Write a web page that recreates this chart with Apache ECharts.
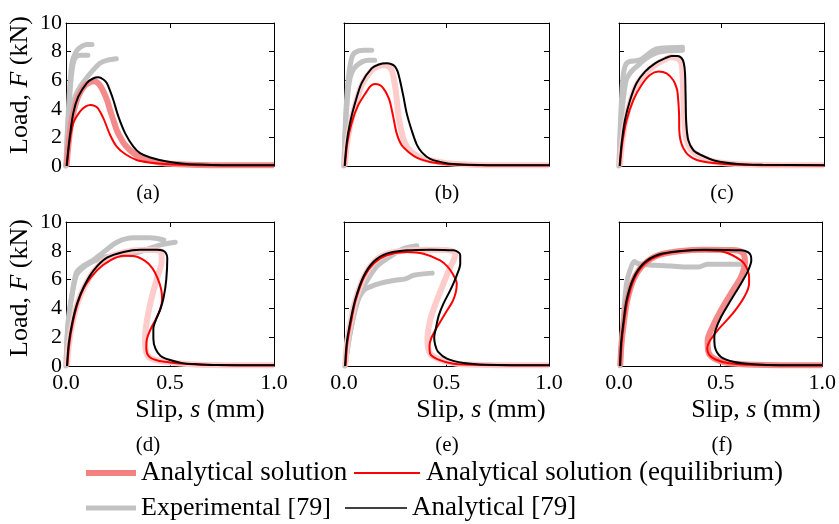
<!DOCTYPE html>
<html>
<head>
<meta charset="utf-8">
<script src="https://cdn.jsdelivr.net/npm/echarts@6/dist/echarts.min.js"></script>
<style>
html,body{margin:0;padding:0;background:#fff;}
#chart{width:839px;height:524px;}
</style>
</head>
<body>
<div id="chart"></div>
<script>
// ---------- data (slip s in mm, load F in kN) ----------
const panelLabels = ['(a)', '(b)', '(c)', '(d)', '(e)', '(f)'];
const xTickValues = [0, 0.5, 1.0];
const yTickValues = [0, 2, 4, 6, 8, 10];
const seriesNames = ['Analytical solution', 'Analytical solution (equilibrium)', 'Experimental [79]', 'Analytical [79]'];

// (a)
const a_exp1 = [[0,0],[0.005,2],[0.012,4],[0.02,6],[0.03,7.3],[0.045,7.9],[0.06,8.2],[0.08,8.4],[0.1,8.5],[0.125,8.5]];
const a_exp2 = [[0,0],[0.006,2],[0.014,4],[0.024,6],[0.035,7.2],[0.05,7.65],[0.07,7.75],[0.105,7.75]];
const a_exp3 = [[0,0],[0.01,2],[0.025,3.8],[0.045,4.9],[0.07,5.6],[0.09,6.0],[0.13,6.7],[0.165,7.2],[0.2,7.4],[0.242,7.5]];
const a_pink = [[0.003,0],[0.012,1.5],[0.025,3],[0.04,4],[0.06,4.9],[0.09,5.6],[0.115,5.85],[0.135,5.92],[0.16,5.7],[0.18,5.2],[0.2,4.5],[0.212,3.9],[0.228,3.2],[0.244,2.5],[0.265,1.9],[0.284,1.47],[0.324,0.9],[0.36,0.6],[0.4,0.4],[0.45,0.25],[0.5,0.15],[0.6,0.08],[0.7,0.06],[1.0,0.05]];
const a_red = [[0.005,0],[0.016,1.6],[0.035,3.0],[0.067,3.8],[0.095,4.17],[0.118,4.27],[0.14,4.18],[0.155,4.0],[0.18,3.33],[0.212,2.17],[0.244,1.35],[0.284,0.84],[0.34,0.42],[0.4,0.25],[0.5,0.12],[0.6,0.07],[0.7,0.05],[1.0,0.05]];
const a_black = [[0.003,0],[0.016,1.8],[0.035,3.7],[0.059,4.85],[0.1,5.8],[0.13,6.12],[0.155,6.2],[0.18,6.05],[0.196,5.8],[0.212,5.25],[0.228,4.6],[0.252,3.45],[0.284,2.3],[0.324,1.35],[0.356,0.9],[0.405,0.6],[0.485,0.32],[0.565,0.16],[0.645,0.1],[0.75,0.06],[1.0,0.05]];

// (b)
const b_exp1 = [[0,0],[0.004,2],[0.01,4],[0.02,6],[0.032,7.2],[0.045,7.8],[0.07,8.05],[0.1,8.1],[0.135,8.1]];
const b_exp2 = [[0,0],[0.005,2],[0.013,4],[0.025,5.8],[0.04,6.6],[0.06,7.0],[0.09,7.3],[0.12,7.4],[0.15,7.4]];
const b_pink = [[0.004,0],[0.014,1.5],[0.031,2.9],[0.056,4.3],[0.088,5.7],[0.135,6.7],[0.165,6.95],[0.19,7.05],[0.215,7.0],[0.235,6.6],[0.25,5.5],[0.26,4.3],[0.268,3.3],[0.29,1.9],[0.31,1.3],[0.34,0.86],[0.38,0.55],[0.42,0.4],[0.5,0.2],[0.6,0.1],[0.7,0.06],[1.0,0.05]];
const b_red = [[0.005,0],[0.016,1.6],[0.037,3.0],[0.07,4.27],[0.11,5.2],[0.13,5.6],[0.151,5.73],[0.175,5.65],[0.192,5.43],[0.21,5.0],[0.224,4.5],[0.24,3.45],[0.257,2.28],[0.281,1.47],[0.322,0.89],[0.36,0.55],[0.42,0.28],[0.5,0.12],[0.6,0.07],[0.7,0.05],[1.0,0.05]];
const b_black = [[0.003,0],[0.013,1.6],[0.029,3.0],[0.054,4.4],[0.086,5.8],[0.135,6.83],[0.17,7.1],[0.208,7.18],[0.235,7.1],[0.249,6.95],[0.262,6.6],[0.273,6.0],[0.29,4.85],[0.306,3.68],[0.33,2.5],[0.355,1.5],[0.38,0.95],[0.42,0.5],[0.5,0.2],[0.58,0.1],[0.7,0.06],[1.0,0.05]];

// (c)
const c_exp1 = [[0,0],[0.004,2],[0.01,4],[0.018,6],[0.03,7.0],[0.05,7.3],[0.1,7.4],[0.14,7.8],[0.175,8.15],[0.22,8.25],[0.31,8.3]];
const c_exp2 = [[0,0],[0.006,2],[0.016,4],[0.035,6.0],[0.06,6.6],[0.09,7.0],[0.135,7.55],[0.18,7.9],[0.24,8.05],[0.31,8.1]];
const c_pink = [[0.004,0],[0.014,1.5],[0.031,3.1],[0.056,4.5],[0.088,5.7],[0.13,6.5],[0.18,7.1],[0.225,7.45],[0.25,7.6],[0.28,7.55],[0.3,7.35],[0.308,6.8],[0.314,4.85],[0.322,2.5],[0.338,1.47],[0.37,0.9],[0.45,0.35],[0.55,0.15],[0.7,0.07],[1.0,0.05]];
const c_red = [[0.005,0],[0.016,1.6],[0.037,3.2],[0.07,4.6],[0.11,5.66],[0.151,6.36],[0.192,6.6],[0.232,6.48],[0.265,6.0],[0.28,5.5],[0.286,5.08],[0.293,3.68],[0.294,2.5],[0.3,1.8],[0.314,1.24],[0.338,0.77],[0.38,0.42],[0.45,0.22],[0.55,0.1],[0.7,0.06],[1.0,0.05]];
const c_black = [[0.003,0],[0.013,1.6],[0.029,3.2],[0.054,4.6],[0.086,5.8],[0.127,6.6],[0.176,7.18],[0.224,7.53],[0.257,7.7],[0.285,7.7],[0.305,7.55],[0.316,7.2],[0.322,6.5],[0.325,4.85],[0.328,3.0],[0.338,1.8],[0.363,1.1],[0.4,0.77],[0.469,0.37],[0.58,0.14],[0.7,0.08],[1.0,0.05]];

// (d)
const d_exp1 = [[0,0],[0.005,2],[0.013,3.5],[0.029,5.0],[0.05,6.5],[0.077,6.9],[0.125,7.3],[0.18,7.9],[0.245,8.6],[0.325,8.9],[0.405,8.9],[0.47,8.75]];
const d_exp2 = [[0,0],[0.006,2],[0.015,3.5],[0.03,5.0],[0.05,6.3],[0.08,6.8],[0.13,7.25],[0.2,7.6],[0.3,7.75],[0.37,8.0],[0.45,8.4],[0.525,8.6]];
const d_pink = [[0.005,0],[0.014,1.5],[0.03,2.9],[0.054,4.3],[0.087,5.45],[0.135,6.6],[0.2,7.5],[0.28,7.9],[0.36,8.05],[0.43,8.05],[0.458,7.9],[0.46,7.3],[0.44,6.2],[0.42,5.2],[0.4,4.0],[0.385,2.8],[0.38,1.9],[0.382,1.2],[0.4,0.6],[0.45,0.35],[0.5,0.25],[0.56,0.16],[0.7,0.07],[1.0,0.05]];
const d_red = [[0.006,0],[0.016,1.55],[0.032,2.94],[0.056,4.33],[0.093,5.6],[0.149,6.64],[0.213,7.34],[0.28,7.65],[0.33,7.62],[0.38,7.3],[0.415,6.8],[0.44,6.1],[0.458,5.3],[0.462,4.6],[0.452,3.9],[0.43,3.2],[0.405,2.5],[0.388,1.8],[0.386,1.2],[0.4,0.65],[0.44,0.38],[0.5,0.25],[0.565,0.16],[0.65,0.09],[0.725,0.07],[1.0,0.05]];
const d_black = [[0.005,0],[0.013,1.55],[0.029,2.94],[0.053,4.33],[0.085,5.49],[0.133,6.64],[0.197,7.52],[0.277,7.92],[0.357,8.08],[0.437,8.08],[0.465,8.02],[0.48,7.85],[0.487,7.5],[0.482,6.0],[0.47,4.8],[0.455,4.0],[0.435,3.3],[0.42,2.6],[0.42,1.9],[0.43,1.2],[0.455,0.7],[0.5,0.42],[0.56,0.2],[0.613,0.14],[0.725,0.07],[1.0,0.05]];

// (e)
const e_exp1 = [[0.005,0],[0.015,1],[0.03,2.3],[0.054,3.9],[0.078,5.0],[0.111,5.9],[0.16,6.9],[0.225,7.6],[0.29,8.15],[0.355,8.35]];
const e_exp2 = [[0.005,0],[0.015,1],[0.03,2.3],[0.054,3.9],[0.075,4.8],[0.1,5.3],[0.127,5.5],[0.18,5.75],[0.25,5.95],[0.3,6.05],[0.34,6.3],[0.43,6.45]];
const e_pink = [[0.006,0],[0.014,1.5],[0.03,2.9],[0.055,4.5],[0.095,6.1],[0.145,7.2],[0.21,7.8],[0.31,8.03],[0.42,8.08],[0.5,8.06],[0.535,7.95],[0.543,7.7],[0.53,7.2],[0.518,6.87],[0.485,5.72],[0.453,4.56],[0.42,3.17],[0.407,1.78],[0.42,0.86],[0.469,0.44],[0.55,0.16],[0.7,0.07],[1.0,0.05]];
const e_red = [[0.008,0],[0.016,1.55],[0.033,2.94],[0.057,4.56],[0.098,6.18],[0.147,7.15],[0.208,7.69],[0.306,7.92],[0.388,7.8],[0.469,7.34],[0.505,6.9],[0.53,6.4],[0.55,5.72],[0.545,5.1],[0.53,4.5],[0.493,3.63],[0.445,2.48],[0.425,1.9],[0.417,1.4],[0.42,0.86],[0.461,0.44],[0.534,0.16],[0.664,0.07],[1.0,0.05]];
const e_black = [[0.005,0],[0.013,1.55],[0.029,2.94],[0.054,4.56],[0.094,6.18],[0.143,7.22],[0.208,7.8],[0.306,8.03],[0.42,8.08],[0.534,8.03],[0.558,7.9],[0.567,7.69],[0.567,7.1],[0.55,6.3],[0.518,5.25],[0.485,4.33],[0.462,3.5],[0.448,2.6],[0.44,2.0],[0.445,1.45],[0.458,1.0],[0.502,0.51],[0.583,0.21],[0.697,0.09],[1.0,0.05]];

// (f)
const f_exp1 = [[0.005,0],[0.013,1.55],[0.024,3.87],[0.037,5.72],[0.054,6.64],[0.075,7.25],[0.094,7.1],[0.176,6.99],[0.257,6.94],[0.339,6.87],[0.387,6.87],[0.436,7.06],[0.534,7.06],[0.616,7.06]];
const f_pink = [[0.006,0],[0.012,1.5],[0.023,2.9],[0.04,4.5],[0.072,6.0],[0.122,7.05],[0.195,7.7],[0.306,7.99],[0.42,8.08],[0.56,8.06],[0.6,7.95],[0.615,7.7],[0.62,7.22],[0.6,6.18],[0.55,5.02],[0.502,3.87],[0.46,2.71],[0.436,1.78],[0.44,0.97],[0.469,0.51],[0.534,0.21],[0.664,0.09],[1.0,0.05]];
const f_red = [[0.006,0],[0.013,1.55],[0.024,2.94],[0.042,4.56],[0.075,6.06],[0.127,7.1],[0.2,7.69],[0.306,7.96],[0.42,8.03],[0.518,7.92],[0.6,7.34],[0.625,6.9],[0.64,6.2],[0.64,5.72],[0.616,4.79],[0.559,3.63],[0.485,2.48],[0.445,1.7],[0.434,1.2],[0.445,0.75],[0.475,0.45],[0.534,0.21],[0.664,0.07],[1.0,0.05]];
const f_black = [[0.005,0],[0.01,1.55],[0.021,2.94],[0.037,4.56],[0.07,6.06],[0.119,7.1],[0.192,7.73],[0.306,7.99],[0.42,8.08],[0.6,8.03],[0.635,7.9],[0.648,7.69],[0.651,7.34],[0.632,6.53],[0.6,5.72],[0.55,4.56],[0.502,3.4],[0.475,2.5],[0.469,2.0],[0.472,1.32],[0.502,0.63],[0.567,0.28],[0.664,0.12],[0.79,0.05],[1.0,0.05]];

const panels = [
  {exp: [a_exp1, a_exp2, a_exp3], pink: a_pink, red: a_red, black: a_black, pinkColor: '#f48a8a'},
  {exp: [b_exp1, b_exp2], pink: b_pink, red: b_red, black: b_black, pinkColor: '#ffcccc'},
  {exp: [c_exp1, c_exp2], pink: c_pink, red: c_red, black: c_black, pinkColor: '#ffcccc'},
  {exp: [d_exp1, d_exp2], pink: d_pink, red: d_red, black: d_black, pinkColor: '#ffcccc'},
  {exp: [e_exp1, e_exp2], pink: e_pink, red: e_red, black: e_black, pinkColor: '#ffcccc'},
  {exp: [f_exp1], pink: f_pink, red: f_red, black: f_black, pinkColor: '#f48a8a'}
];

// ---------- layout ----------
const FONT = '"Liberation Serif", "DejaVu Serif", serif';
const grids = [
  {left: 66, top: 23, width: 208, height: 143},
  {left: 344, top: 23, width: 205, height: 143},
  {left: 619, top: 23, width: 205, height: 143},
  {left: 66, top: 222, width: 208, height: 144},
  {left: 344, top: 222, width: 205, height: 144},
  {left: 619, top: 222, width: 205, height: 144}
];

const axisLineStyle = {show: true, onZero: false, lineStyle: {color: '#000', width: 1}};
const tickStyle = {show: true, inside: true, length: 5, lineStyle: {color: '#000', width: 1}};
const xAxes = [], yAxes = [], series = [];
grids.forEach((g, i) => {
  const row = Math.floor(i / 3), col = i % 3;
  xAxes.push({gridIndex: i, type: 'value', min: 0, max: 1, interval: 0.5, position: 'bottom',
    axisLine: axisLineStyle, axisTick: tickStyle, splitLine: {show: false},
    axisLabel: {show: row === 1, margin: 6, color: '#000', fontFamily: FONT, fontSize: 22,
      formatter: v => xTickValues.includes(v) ? v.toFixed(1) : ''}});
  xAxes.push({gridIndex: i, type: 'value', min: 0, max: 1, interval: 0.5, position: 'top',
    axisLine: axisLineStyle, axisTick: tickStyle, splitLine: {show: false}, axisLabel: {show: false}});
  yAxes.push({gridIndex: i, type: 'value', min: 0, max: 10, interval: 2, position: 'left',
    axisLine: axisLineStyle, axisTick: tickStyle, splitLine: {show: false},
    axisLabel: {show: col === 0, margin: 4, color: '#000', fontFamily: FONT, fontSize: 22,
      formatter: v => yTickValues.includes(v) ? String(v) : ''}});
  yAxes.push({gridIndex: i, type: 'value', min: 0, max: 10, interval: 2, position: 'right',
    axisLine: axisLineStyle, axisTick: tickStyle, splitLine: {show: false}, axisLabel: {show: false}});

  const p = panels[i];
  const base = {type: 'line', xAxisIndex: 2 * i, yAxisIndex: 2 * i, showSymbol: false, symbol: 'none',
    smooth: 0.3, silent: true, animation: false};
  p.exp.forEach(d => series.push(Object.assign({}, base, {name: seriesNames[2], data: d,
    lineStyle: {color: '#c2c2c2', width: 5, cap: 'round', join: 'round'}})));
  series.push(Object.assign({}, base, {name: seriesNames[0], data: p.pink,
    lineStyle: {color: p.pinkColor, width: 6, join: 'round'}}));
  series.push(Object.assign({}, base, {name: seriesNames[1], data: p.red,
    lineStyle: {color: '#ff0000', width: 2}}));
  series.push(Object.assign({}, base, {name: seriesNames[3], data: p.black,
    lineStyle: {color: '#000000', width: 2}}));
});

// ---------- text / legend graphics ----------
const graphics = [];
const richText = (pre, it, post, size) => ({
  text: '{n|' + pre + '}{i|' + it + '}{n|' + post + '}',
  rich: {n: {fontFamily: FONT, fontSize: size, fill: '#000'},
         i: {fontFamily: FONT, fontSize: size, fontStyle: 'italic', fill: '#000'}},
  align: 'center', verticalAlign: 'middle'
});
[85, 288].forEach(y => graphics.push({type: 'text', x: 20, y: y, rotation: Math.PI / 2,
  style: richText('Load, ', 'F', ' (kN)', 26)}));
[200, 481, 756].forEach(x => graphics.push({type: 'text', x: x, y: 410,
  style: richText('Slip, ', 's', ' (mm)', 26)}));
const labelPos = [[148, 193], [447, 193], [722, 193], [148, 445], [447, 445], [722, 445]];
panelLabels.forEach((t, i) => graphics.push({type: 'text', x: labelPos[i][0], y: labelPos[i][1],
  style: {text: t, fontFamily: FONT, fontSize: 21, fill: '#000', align: 'center', verticalAlign: 'middle'}}));

const legendItems = [
  {name: seriesNames[0], x1: 86, x2: 136, y: 473, color: '#f58080', w: 6, tx: 141},
  {name: seriesNames[1], x1: 354, x2: 420, y: 473, color: '#ff0000', w: 2, tx: 426},
  {name: seriesNames[2], x1: 86, x2: 136, y: 508, color: '#c2c2c2', w: 5, tx: 141},
  {name: seriesNames[3], x1: 345, x2: 407, y: 508, color: '#000000', w: 1.5, tx: 412}
];
legendItems.forEach(it => {
  graphics.push({type: 'line', shape: {x1: it.x1, y1: it.y, x2: it.x2, y2: it.y},
    style: {stroke: it.color, lineWidth: it.w}});
  graphics.push({type: 'text', x: it.tx, y: it.y,
    style: {text: it.name, fontFamily: FONT, fontSize: (it.name === seriesNames[2] ? 26 : 27), fill: '#000', align: 'left', verticalAlign: 'middle'}});
});

const chart = echarts.init(document.getElementById('chart'), null, {renderer: 'canvas'});
chart.setOption({
  animation: false,
  backgroundColor: '#fff',
  grid: grids.map(g => Object.assign({containLabel: false}, g)),
  xAxis: xAxes,
  yAxis: yAxes,
  series: series,
  graphic: graphics
});
</script>
</body>
</html>
